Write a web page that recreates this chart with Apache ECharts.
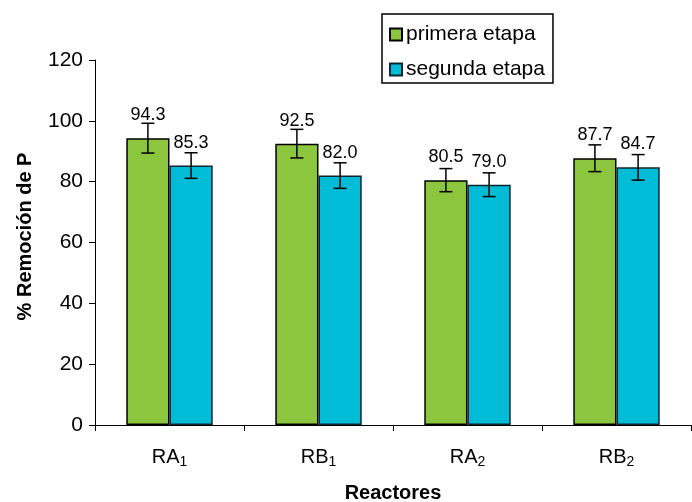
<!DOCTYPE html>
<html>
<head>
<meta charset="utf-8">
<script src="https://cdn.jsdelivr.net/npm/echarts@6/dist/echarts.min.js"></script>
<style>html,body{margin:0;padding:0;background:#fff}#c{width:692px;height:502px}</style>
</head>
<body>
<div id="c"></div>
<script>
var categories = ['RA{s|1}', 'RB{s|1}', 'RA{s|2}', 'RB{s|2}'];
var seriesNames = ['primera etapa', 'segunda etapa'];
var primera = [94.3, 92.5, 80.5, 87.7];
var segunda = [85.3, 82.0, 79.0, 84.7];
var errPrimera = [4.9, 4.7, 3.8, 4.4];
var errSegunda = [4.2, 4.2, 3.9, 4.2];
var yTicks = [0, 20, 40, 60, 80, 100, 120];

var FONT = 'Liberation Sans, Arial, sans-serif';
var GAP = 0.42;

function errSeries(vals, errs, idx) {
  var data = vals.map(function (v, i) { return [i, v, errs[i]]; });
  return {
    type: 'custom',
    z: 10,
    silent: true,
    data: data,
    renderItem: function (params, api) {
      var i = api.value(0), v = api.value(1), e = api.value(2);
      var c = api.coord([i, v]);
      var catW = api.size([1, 0])[0];
      var bw = catW * (1 - GAP) / 2;
      var x = c[0] + (idx === 0 ? -bw / 2 : bw / 2);
      var yt = api.coord([i, v + e])[1];
      var yb = api.coord([i, v - e])[1];
      var cap = 6.5;
      var st = { stroke: '#000', lineWidth: 1.5 };
      return {
        type: 'group',
        children: [
          { type: 'line', shape: { x1: x, y1: yt, x2: x, y2: yb }, style: st },
          { type: 'line', shape: { x1: x - cap, y1: yt, x2: x + cap, y2: yt }, style: st },
          { type: 'line', shape: { x1: x - cap, y1: yb, x2: x + cap, y2: yb }, style: st }
        ]
      };
    }
  };
}

var chart = echarts.init(document.getElementById('c'), null, { renderer: 'canvas' });
chart.setOption({
  animation: false,
  backgroundColor: '#fff',
  textStyle: { fontFamily: FONT },
  grid: { left: 95, top: 60, right: 1, bottom: 77, containLabel: false, outerBoundsMode: 'none' },
  legend: {
    orient: 'vertical',
    left: 382, top: 14,
    data: seriesNames,
    icon: 'rect',
    itemWidth: 12, itemHeight: 12,
    itemGap: 14,
    padding: [10, 8, 3, 7],
    borderColor: '#000', borderWidth: 1.5,
    textStyle: { fontFamily: FONT, fontSize: 21, color: '#000', padding: [0, 0, 0, -1] }
  },
  xAxis: {
    type: 'category',
    data: categories,
    name: 'Reactores',
    nameLocation: 'middle',
    nameGap: 58,
    nameTextStyle: { fontFamily: FONT, fontWeight: 'bold', fontSize: 20, color: '#000' },
    axisLine: { lineStyle: { color: '#000', width: 1 } },
    axisTick: { show: true, interval: 0, length: 6, lineStyle: { color: '#000' } },
    axisLabel: {
      interval: 0, margin: 20, color: '#000', fontSize: 20, fontFamily: FONT,
      rich: { s: { fontSize: 14, fontFamily: FONT, color: '#000', padding: [10, 0, 0, 0] } }
    },
    splitLine: { show: false }
  },
  yAxis: {
    type: 'value',
    min: yTicks[0], max: yTicks[yTicks.length - 1], interval: 20,
    name: '% Remoción de P',
    nameLocation: 'middle',
    nameGap: 60,
    nameRotate: 90,
    nameTextStyle: { fontFamily: FONT, fontWeight: 'bold', fontSize: 20, color: '#000', padding: [0, 0, 0, 12] },
    axisLine: { show: true, lineStyle: { color: '#000', width: 1 } },
    axisTick: { show: true, length: 6, inside: false, lineStyle: { color: '#000' } },
    axisLabel: { color: '#000', fontSize: 21, fontFamily: FONT, margin: 12 },
    splitLine: { show: false }
  },
  series: [
    {
      name: seriesNames[0], type: 'bar', data: primera,
      barGap: '0%', barCategoryGap: (GAP * 100) + '%',
      itemStyle: { color: '#8cc63f', borderColor: '#000', borderWidth: 1.5 },
      label: { show: true, position: 'top', distance: 14, color: '#000', fontSize: 18, fontFamily: FONT,
        formatter: function (p) { return p.value.toFixed(1); } }
    },
    {
      name: seriesNames[1], type: 'bar', data: segunda,
      itemStyle: { color: '#00bcd6', borderColor: '#0b2630', borderWidth: 1.5 },
      label: { show: true, position: 'top', distance: 14, color: '#000', fontSize: 18, fontFamily: FONT,
        formatter: function (p) { return p.value.toFixed(1); } }
    },
    errSeries(primera, errPrimera, 0),
    errSeries(segunda, errSegunda, 1)
  ]
});
</script>
</body>
</html>
